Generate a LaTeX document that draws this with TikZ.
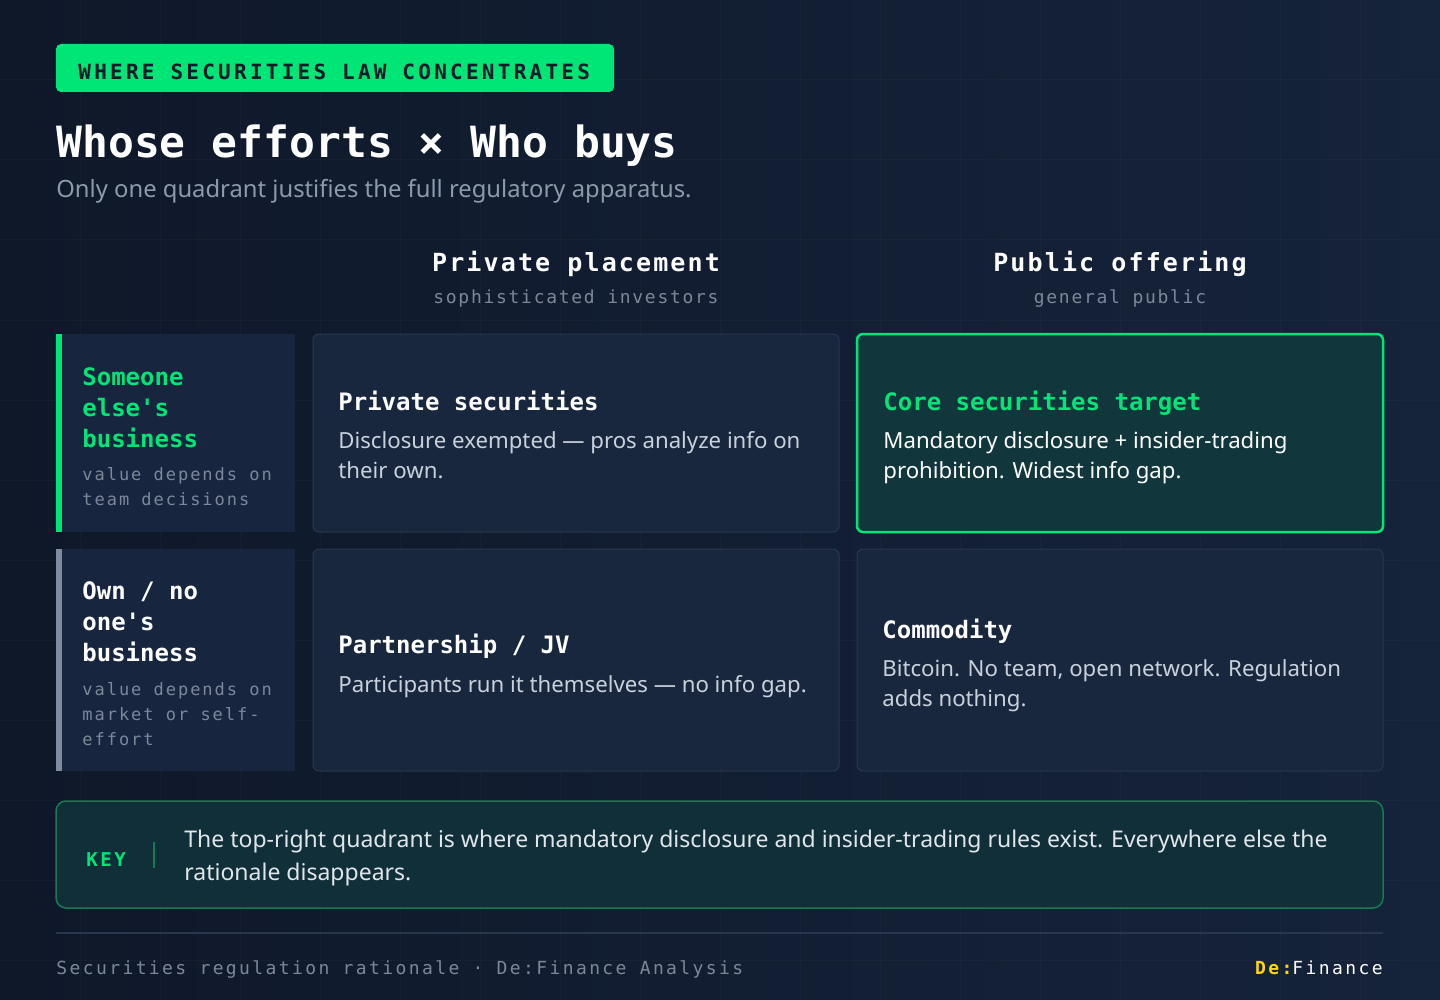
\documentclass[tikz,border=0pt]{standalone}
\usepackage{fontspec}
\setmainfont{Noto Sans}
\setmonofont{DejaVu Sans Mono}
\usetikzlibrary{positioning}

\definecolor{bgdark}{HTML}{0F1829}
\definecolor{bglight}{HTML}{15233B}
\definecolor{cardfill}{HTML}{18263E}
\definecolor{cardline}{HTML}{28374E}
\definecolor{rowfill}{HTML}{17253F}
\definecolor{hifill}{HTML}{11363C}
\definecolor{accent}{HTML}{00E676}
\definecolor{keyfill}{HTML}{112F38}
\definecolor{keyline}{HTML}{177A52}
\definecolor{muted}{HTML}{7C8899}
\definecolor{subtxt}{HTML}{8C9AAC}
\definecolor{bodytxt}{HTML}{C9D1DC}
\definecolor{keytxt}{HTML}{E1E6EC}
\definecolor{navy}{HTML}{0F1A2B}
\definecolor{bargray}{HTML}{7F8C9D}
\definecolor{brand}{HTML}{FFD60A}

\tikzset{
	%Boxes. 1 unit = 1 px of the layout, y runs downwards
	cell/.style = {fill=cardfill, draw=cardline, line width=0.5pt,
	               rounded corners=3pt},
	hicell/.style = {fill=hifill, draw=accent, line width=1.25pt,
	               rounded corners=3pt},
	rowcell/.style = {fill=rowfill},
	%Texts (multi-line ones sit on the baseline of their last line)
	txt/.style = {inner sep=0, anchor=base west, align=left},
	tagtxt/.style = {txt, text=navy,
	               font=\ttfamily\bfseries\fontsize{10.5pt}{12pt}\selectfont\addfontfeatures{LetterSpace=15.5}},
	headtxt/.style = {txt, anchor=base, align=center, text=white,
	               font=\ttfamily\bfseries\fontsize{12.5pt}{15pt}\selectfont\addfontfeatures{LetterSpace=8.5}},
	headsub/.style = {txt, anchor=base, align=center, text=muted,
	               font=\ttfamily\fontsize{9pt}{12pt}\selectfont\addfontfeatures{LetterSpace=9.5}},
	rowtxt/.style = {txt, text=white,
	               font=\ttfamily\bfseries\fontsize{12pt}{15.5pt}\selectfont},
	rowsub/.style = {txt, text=muted,
	               font=\ttfamily\fontsize{8.5pt}{12.5pt}\selectfont\addfontfeatures{LetterSpace=11.6}},
	celltitle/.style = {txt, text=white,
	               font=\ttfamily\bfseries\fontsize{12pt}{15pt}\selectfont},
	body/.style = {txt, text=bodytxt,
	               font=\fontsize{11.1pt}{15pt}\selectfont},
	foot/.style = {txt, text=muted,
	               font=\ttfamily\fontsize{9pt}{12pt}\selectfont\addfontfeatures{LetterSpace=13.3}}
}

\begin{document}
\begin{tikzpicture}[x=0.5pt, y=-0.5pt]
	\useasboundingbox (0,0) rectangle (1440,1000);
	\shade[left color=bgdark, right color=bglight] (0,0) rectangle (1440,1000);
	\foreach \x in {80,160,...,1360}
		\draw[white, opacity=0.025, line width=0.5pt] (\x,0) -- (\x,1000);
	\foreach \y in {80,160,...,960}
		\draw[white, opacity=0.025, line width=0.5pt] (0,\y) -- (1440,\y);

	% header
	\fill[accent, rounded corners=2.5pt] (56,44) rectangle (614,92);
	\node (tag) [tagtxt] at (78,80) {WHERE SECURITIES LAW CONCENTRATES};
	\node (title) [txt, text=white,
	      font=\ttfamily\bfseries\fontsize{21.5pt}{24pt}\selectfont] at (56,158) {Whose efforts × Who buys};
	\node (sub) [txt, text=subtxt, font=\fontsize{11.9pt}{14pt}\selectfont] at (56,198)
	      {Only one quadrant justifies the full regulatory apparatus.};

	% column heads
	\node (priv) [headtxt] at (576,271) {Private placement};
	\node (privsub) [headsub] at (576,303) {sophisticated investors};
	\node (pub) [headtxt] at (1120,271) {Public offering};
	\node (pubsub) [headsub] at (1120,303) {general public};

	% row heads
	\fill[rowcell] (56,334) rectangle (295,532);
	\fill[accent] (56,334) rectangle (62,532);
	\node (else) [rowtxt, text=accent] at (82,447) {Someone\\else's\\business};
	\node (elsesub) [rowsub] at (82,505) {value depends on\\team decisions};

	\fill[rowcell] (56,549) rectangle (295,771);
	\fill[bargray] (56,549) rectangle (62,771);
	\node (own) [rowtxt] at (82,661) {Own / no\\one's\\business};
	\node (ownsub) [rowsub] at (82,745) {value depends on\\market or self-\\effort};

	% quadrants
	\draw[cell] (313,334) rectangle (839,532);
	\node (ps) [celltitle] at (338,410) {Private securities};
	\node (psb) [body] at (338,478) {Disclosure exempted — pros analyze info on\\their own.};

	\draw[hicell] (857,334) rectangle (1383,532);
	\node (core) [celltitle, text=accent] at (883,410) {Core securities target};
	\node (coreb) [body, text=white] at (883,478) {Mandatory disclosure + insider-trading\\prohibition. Widest info gap.};

	\draw[cell] (313,549) rectangle (839,771);
	\node (jv) [celltitle] at (338,653) {Partnership / JV};
	\node (jvb) [body] at (338,692) {Participants run it themselves — no info gap.};

	\draw[cell] (857,549) rectangle (1383,771);
	\node (com) [celltitle] at (882,638) {Commodity};
	\node (comb) [body] at (882,706) {Bitcoin. No team, open network. Regulation\\adds nothing.};

	% key
	\draw[fill=keyfill, draw=keyline, line width=0.75pt, rounded corners=5pt] (56,801) rectangle (1383,908);
	\node (key) [txt, text=accent,
	      font=\ttfamily\bfseries\fontsize{9.5pt}{12pt}\selectfont\addfontfeatures{LetterSpace=13.5}] at (86,866) {KEY};
	\draw[keyline, line width=1pt] (154,842) -- (154,868);
	\node (keyb) [body, text=keytxt, font=\fontsize{11.5pt}{16.5pt}\selectfont] at (184,880)
	      {The top-right quadrant is where mandatory disclosure and insider-trading rules exist. Everywhere else the\\rationale disappears.};

	% footer
	\draw[cardline, line width=0.75pt] (56,933) -- (1383,933);
	\node (src) [foot] at (56,974) {Securities regulation rationale · De:Finance Analysis};
	\node (logo) [foot, anchor=base east, text=white] at (1383,974) {\textcolor{brand}{\bfseries De:}Finance};
\end{tikzpicture}
\end{document}
